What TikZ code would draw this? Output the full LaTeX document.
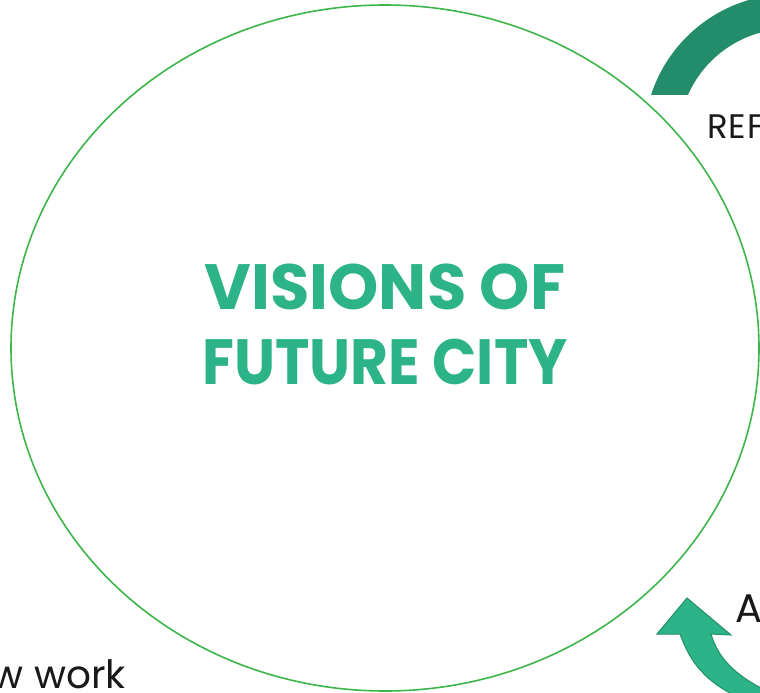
\documentclass[tikz,border=0pt]{standalone}
\usepackage{fontspec}
\setmainfont{Poppins}
\definecolor{ringgreen}{HTML}{3DB54A}
\definecolor{titlegreen}{HTML}{2DB388}
\definecolor{darkband}{HTML}{238C6A}
\definecolor{arrowedge}{HTML}{22906A}

\begin{document}
\begin{tikzpicture}[x=1pt, y=-1pt,
    ring/.style={draw=ringgreen, line width=1.6pt},
    title/.style={text=titlegreen, font=\fontsize{64}{75}\selectfont\bfseries, align=center},
    label/.style={text=black!90, inner sep=0pt}]
  \useasboundingbox (0,0) rectangle (760,693);
  \clip (0,0) rectangle (760,693);
  % the big circle
  \draw[ring] (385,348) ellipse [x radius=374, y radius=343];
  \node[title] (vision) at (385,324) {VISIONS OF\\\scalebox{0.91}[1]{FUTURE CITY}};
  % band at the top right
  \fill[darkband] (651,95) arc[start angle=198, end angle=262, radius=146]
    -- ++(262:-34.5) arc[start angle=262, end angle=204, radius=111.5] -- cycle;
  % arrow at the bottom right
  \filldraw[fill=titlegreen, draw=arrowedge, line width=1pt]
    (657,634) -- (687,598) -- (731,635) -- (711,634)
    .. controls (718,658) and (735,675) .. (765,690) -- (772,706) -- (740,698)
    .. controls (705,682) and (690,662) .. (680,634) -- cycle;
  % texts cut by the frame
  \node[label, anchor=base west, font=\fontsize{34}{38}\selectfont\addfontfeature{LetterSpace=3}] (ref) at (707,138) {REF};
  \node[label, anchor=base west, font=\fontsize{40}{44}\selectfont] (a) at (735,622) {A};
  \node[label, anchor=base east, font=\fontsize{39}{44}\selectfont] (work) at (126,688) {w work};
\end{tikzpicture}
\end{document}
